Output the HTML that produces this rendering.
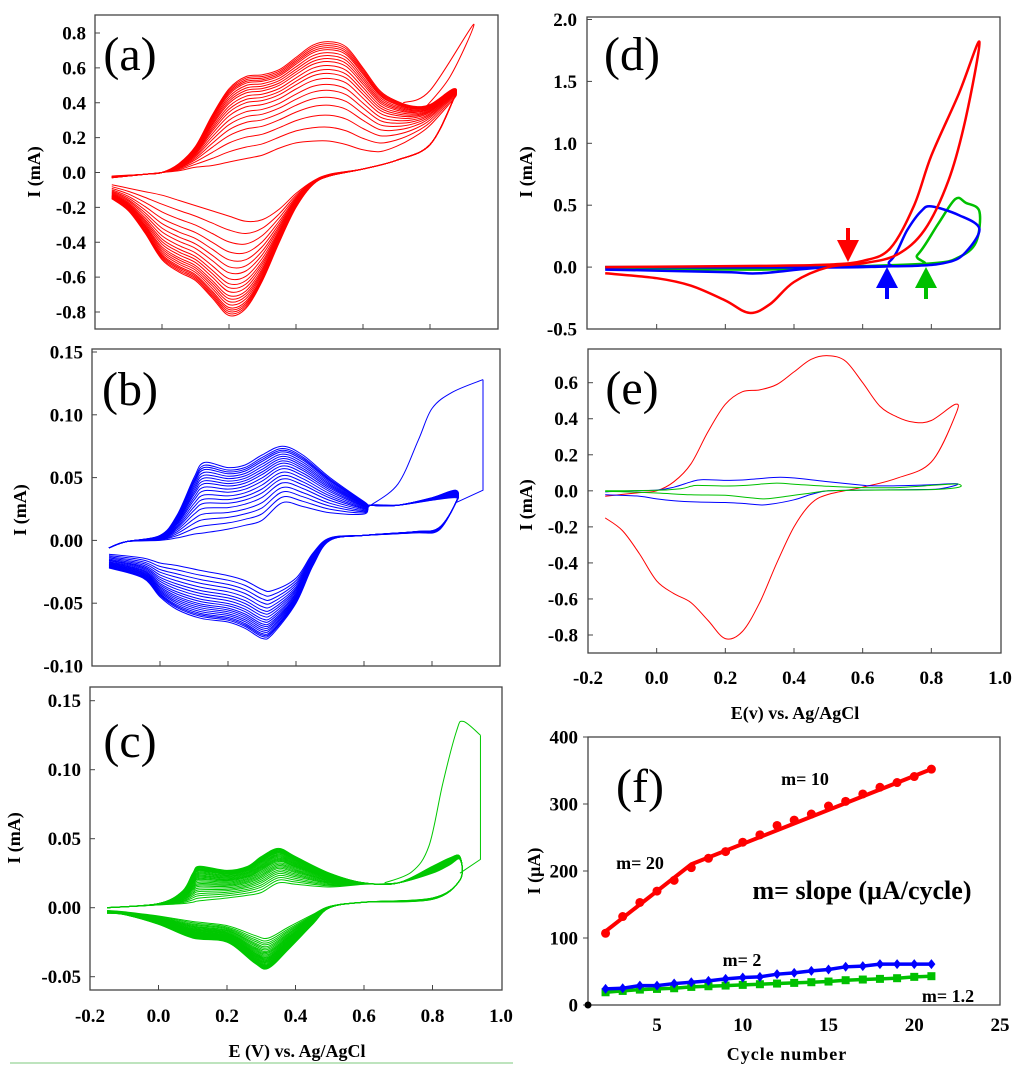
<!DOCTYPE html>
<html><head><meta charset="utf-8"><style>
html,body{margin:0;padding:0;background:#fff;}
svg{display:block;font-family:"Liberation Serif",serif;}
.tk{font-weight:bold;font-size:19px;fill:#000;}
.ax{font-weight:bold;font-size:18px;fill:#000;}
.pl{font-size:48px;fill:#000;}
</style></head><body>
<svg id="fig" width="1024" height="1074" viewBox="0 0 1024 1074" xmlns="http://www.w3.org/2000/svg">
<line x1="10" y1="1063" x2="513" y2="1063" stroke="#7cc87c" stroke-width="1"/>
</svg>
<script>
// ---- Panel (a) data ----
const aFwdE=[-0.15,-0.05,0.0,0.05,0.1,0.15,0.2,0.25,0.3,0.35,0.4,0.45,0.5,0.55,0.6,0.65,0.7,0.75,0.8,0.87];
const aFwdOuter=[-0.03,-0.01,0.0,0.05,0.15,0.33,0.48,0.55,0.56,0.59,0.66,0.73,0.75,0.72,0.6,0.47,0.41,0.38,0.39,0.48];
const aFwdInner=[-0.02,-0.01,0.0,0.01,0.03,0.04,0.06,0.08,0.1,0.14,0.17,0.18,0.18,0.16,0.13,0.12,0.15,0.2,0.27,0.42];
const aRevE=[0.87,0.8,0.7,0.6,0.5,0.45,0.4,0.35,0.3,0.25,0.2,0.15,0.1,0.05,0.0,-0.05,-0.1,-0.15];
const aRevOuter=[0.42,0.16,0.07,0.02,-0.02,-0.07,-0.2,-0.4,-0.62,-0.78,-0.82,-0.72,-0.62,-0.57,-0.5,-0.35,-0.22,-0.15];
const aRevInner=[0.42,0.16,0.07,0.02,-0.01,-0.05,-0.12,-0.21,-0.27,-0.28,-0.25,-0.22,-0.19,-0.16,-0.13,-0.11,-0.09,-0.07];
const aCycleW=[0,0.14,0.26,0.36,0.44,0.51,0.57,0.63,0.68,0.72,0.76,0.8,0.83,0.86,0.89,0.92,0.94,0.96,0.98,1.0];
const aFirstE=[0.72,0.8,0.93,0.86,0.78];
const aFirstI=[0.4,0.47,0.85,0.55,0.36];
// ---- Panel (b) data ----
const bFwdE=[-0.15,-0.1,0.0,0.05,0.1,0.13,0.2,0.25,0.3,0.36,0.42,0.5,0.6,0.62,0.7,0.8,0.87];
const bFwdOuter=[-0.006,-0.001,0.004,0.02,0.05,0.062,0.058,0.06,0.068,0.075,0.068,0.05,0.031,0.028,0.028,0.034,0.04];
const bFwdInner=[-0.006,-0.001,0.0,0.002,0.005,0.006,0.009,0.012,0.016,0.03,0.027,0.022,0.021,0.028,0.028,0.032,0.034];
const bRevE=[0.87,0.82,0.75,0.6,0.5,0.45,0.4,0.33,0.3,0.25,0.2,0.12,0.05,0.0,-0.05,-0.15];
const bRevOuter=[0.03,0.01,0.007,0.004,0.0,-0.02,-0.05,-0.075,-0.078,-0.07,-0.065,-0.062,-0.055,-0.045,-0.03,-0.022];
const bRevInner=[0.03,0.008,0.006,0.004,0.002,-0.01,-0.03,-0.04,-0.039,-0.032,-0.028,-0.024,-0.02,-0.018,-0.014,-0.011];
const bCycleW=[0,0.1,0.19,0.27,0.35,0.42,0.48,0.54,0.6,0.65,0.7,0.74,0.78,0.82,0.86,0.9,0.93,0.96,1.0];
const bFirstE=[0.62,0.7,0.76,0.8,0.86,0.95];
const bFirstI=[0.028,0.045,0.08,0.105,0.118,0.128];
const bFirstDownE=[0.95,0.95,0.87];
const bFirstDownI=[0.128,0.04,0.03];
// ---- Panel (c) data ----
const cFwdE=[-0.15,0.0,0.07,0.1,0.12,0.2,0.26,0.3,0.35,0.4,0.5,0.6,0.7,0.8,0.85,0.88];
const cFwdOuter=[0.0,0.003,0.012,0.025,0.03,0.027,0.03,0.037,0.043,0.037,0.025,0.018,0.018,0.03,0.036,0.037];
const cFwdInner=[0.0,0.002,0.003,0.004,0.005,0.007,0.009,0.011,0.018,0.017,0.015,0.017,0.018,0.025,0.031,0.035];
const cRevE=[0.88,0.8,0.6,0.5,0.45,0.38,0.32,0.28,0.2,0.1,0.0,-0.1,-0.15];
const cRevOuter=[0.02,0.007,0.004,0.0,-0.012,-0.03,-0.044,-0.04,-0.025,-0.022,-0.012,-0.005,-0.004];
const cRevInner=[0.02,0.006,0.004,0.001,-0.005,-0.014,-0.022,-0.02,-0.013,-0.01,-0.006,-0.003,-0.002];
const cCycleW=[0,0.08,0.15,0.21,0.27,0.32,0.37,0.42,0.46,0.5,0.54,0.58,0.62,0.65,0.68,0.71,0.74,0.77,0.8,0.83,0.86,0.88,0.9,0.92,0.94,0.96,0.98,1.0];
const cFirstE=[0.66,0.74,0.79,0.83,0.87,0.89,0.94];
const cFirstI=[0.018,0.026,0.045,0.09,0.128,0.135,0.125];
const cFirstDownE=[0.94,0.94,0.88];
const cFirstDownI=[0.125,0.035,0.025];
// ---- Panel (d) data ----
const dRedE=[-0.15,0.3,0.5,0.6,0.68,0.75,0.8,0.88,0.94,0.9,0.85,0.78,0.7,0.6,0.5,0.4,0.33,0.27,0.2,0.1,0.0,-0.15];
const dRedI=[0.0,0.01,0.02,0.05,0.15,0.5,0.9,1.4,1.82,1.2,0.7,0.3,0.1,0.03,0.0,-0.12,-0.3,-0.37,-0.27,-0.15,-0.09,-0.05];
const dBlueE=[-0.15,0.6,0.68,0.73,0.77,0.8,0.88,0.94,0.9,0.85,0.75,0.5,0.3,0.2,-0.15];
const dBlueI=[0.0,0.0,0.05,0.3,0.45,0.49,0.42,0.31,0.12,0.04,0.01,0.0,-0.05,-0.04,-0.02];
const dGreenE=[-0.15,0.7,0.76,0.82,0.87,0.9,0.94,0.93,0.88,0.8,0.5,0.3,-0.15];
const dGreenI=[0.0,0.01,0.1,0.35,0.55,0.52,0.45,0.2,0.08,0.03,0.0,-0.02,-0.01];
// ---- Panel (f) data ----
const fCycles=[2,3,4,5,6,7,8,9,10,11,12,13,14,15,16,17,18,19,20,21];
const fRed=[107,132,153,170,186,205,219,229,243,254,268,276,285,297,304,315,325,332,341,352];
const fBlue=[24,25,29,29,32,34,36,39,41,42,46,48,51,53,57,58,61,61,61,61];
const fGreen=[19,21,23,24,25,27,28,29,30,31,32,33,34,35,37,38,39,40,42,43];
const fRedFitX=[2,7,21];
const fRedFitY=[110,210,352];

const NS='http://www.w3.org/2000/svg';
const svg=document.getElementById('fig');
function el(tag,attrs,parent){const e=document.createElementNS(NS,tag);for(const k in attrs)e.setAttribute(k,attrs[k]);(parent||svg).appendChild(e);return e;}
function lin(d0,d1,p0,p1){return v=>p0+(v-d0)*(p1-p0)/(d1-d0);}
function smooth(pts){
  let d='M'+pts[0][0].toFixed(1)+','+pts[0][1].toFixed(1);
  for(let i=0;i<pts.length-1;i++){
    const p0=pts[Math.max(0,i-1)],p1=pts[i],p2=pts[i+1],p3=pts[Math.min(pts.length-1,i+2)];
    const c1=[p1[0]+(p2[0]-p0[0])/6,p1[1]+(p2[1]-p0[1])/6];
    const c2=[p2[0]-(p3[0]-p1[0])/6,p2[1]-(p3[1]-p1[1])/6];
    d+='C'+c1[0].toFixed(1)+','+c1[1].toFixed(1)+' '+c2[0].toFixed(1)+','+c2[1].toFixed(1)+' '+p2[0].toFixed(1)+','+p2[1].toFixed(1);
  }
  return d;
}
function box(x0,y0,x1,y1,name){
  const r=el('rect',{x:x0,y:y0,width:x1-x0,height:y1-y0,fill:'none',stroke:'#444','stroke-width':1.3});
  
  
}
function yTicks(ticks,dec,sy,x0,lx,inward,name){
  const g=el('g',{});
  
  
  ticks.forEach(v=>{
    const y=sy(v);
    el('line',{x1:x0,y1:y,x2:inward?x0+5:x0-5,y2:y,stroke:'#444','stroke-width':1},g);
    const t=el('text',{x:lx,y:y+6.5,'text-anchor':'end',class:'tk'},g);
    t.textContent=v.toFixed(dec);
  });
}
function xTicks(ticks,sx,y0,labels,ly,name,dec){
  const g=el('g',{});
  
  
  ticks.forEach(v=>{const x=sx(v);el('line',{x1:x,y1:y0,x2:x,y2:y0-5,stroke:'#444','stroke-width':1},g);});
  if(labels)labels.forEach(v=>{const t=el('text',{x:sx(v),y:ly,'text-anchor':'middle',class:'tk'},g);t.textContent=v.toFixed(dec);});
}
function label(x,y,txt,cls,name,rot){
  const t=el('text',{x:x,y:y,'text-anchor':'middle',class:cls});
  if(rot)t.setAttribute('transform','rotate(-90 '+x+' '+y+')');
  t.textContent=txt;
  
  
  return t;
}
function cvPanel(p){
  const g=el('g',{fill:'none',stroke:p.color,'stroke-width':p.sw||1});
  
  
  p.w.forEach((w,i)=>{
    const pts=[];
    p.fe.forEach((e,k)=>pts.push([p.sx(e),p.sy(p.fi[k]+w*(p.fo[k]-p.fi[k]))]));
    p.re.forEach((e,k)=>pts.push([p.sx(e),p.sy(p.ri[k]+w*(p.ro[k]-p.ri[k]))]));
    const path=el('path',{d:smooth(pts)},g);
    
    
  });
  if(p.xe){
    const pts=p.xe.map((e,k)=>[p.sx(e),p.sy(p.xi[k])]);
    const path=el('path',{d:smooth(pts)},g);
    
    
  }
  if(p.de){
    const pts=p.de.map((e,k)=>[p.sx(e),p.sy(p.di[k])]);
    const path=el('polyline',{points:pts.map(q=>q.join(',')).join(' ')},g);
    
    
  }
}
function traceLine(E,I,sx,sy,color,sw,name){
  const pts=E.map((e,k)=>[sx(e),sy(I[k])]);
  const p=el('path',{d:smooth(pts),fill:'none',stroke:color,'stroke-width':sw,'stroke-linejoin':'round'});
  
  
}
const cvTicks=[0.0,0.2,0.4,0.6,0.8];
const cvLabels=[-0.2,0.0,0.2,0.4,0.6,0.8,1.0];

// Panel a
{const sx=lin(-0.2,1.0,95,497),sy=lin(0.8,-0.8,33,312);
box(95,15,498,329,'panel-a-frame');
yTicks([0.8,0.6,0.4,0.2,0,-0.2,-0.4,-0.6,-0.8],1,sy,95,86,true,'panel-a-y-ticks');
xTicks(cvTicks,sx,329,null,0,'panel-a-x-ticks');
cvPanel({name:'panel-a-cycles',color:'#ff0000',sx,sy,fe:aFwdE,fo:aFwdOuter,fi:aFwdInner,re:aRevE,ro:aRevOuter,ri:aRevInner,w:aCycleW,xe:aFirstE,xi:aFirstI});
label(40,172,'I (mA)','ax','panel-a-y-title',true);
label(130,70,'(a)','pl','panel-a-label');}
// Panel b
{const sx=lin(-0.2,1.0,92,500),sy=lin(0.15,-0.10,352,666);
box(92,349,500,666,'panel-b-frame');
yTicks([0.15,0.10,0.05,0,-0.05,-0.10],2,sy,92,83,true,'panel-b-y-ticks');
xTicks(cvTicks,sx,666,null,0,'panel-b-x-ticks');
cvPanel({name:'panel-b-cycles',color:'#0000ff',sx,sy,fe:bFwdE,fo:bFwdOuter,fi:bFwdInner,re:bRevE,ro:bRevOuter,ri:bRevInner,w:bCycleW,xe:bFirstE,xi:bFirstI,de:bFirstDownE,di:bFirstDownI});
label(26,510,'I (mA)','ax','panel-b-y-title',true);
label(130,405,'(b)','pl','panel-b-label');}
// Panel c
{const sx=lin(-0.2,1.0,90,501),sy=lin(0.15,-0.05,700.7,976.7);
box(90,687,502,990,'panel-c-frame');
yTicks([0.15,0.10,0.05,0,-0.05],2,sy,90,81,true,'panel-c-y-ticks');
xTicks(cvTicks,sx,990,cvLabels,1022,'panel-c-x-ticks',1);
cvPanel({name:'panel-c-cycles',color:'#00c800',sx,sy,fe:cFwdE,fo:cFwdOuter,fi:cFwdInner,re:cRevE,ro:cRevOuter,ri:cRevInner,w:cCycleW,xe:cFirstE,xi:cFirstI,de:cFirstDownE,di:cFirstDownI});
label(20,838,'I (mA)','ax','panel-c-y-title',true);
label(297,1057,'E (V) vs. Ag/AgCl','ax','panel-c-x-title');
label(130,757,'(c)','pl','panel-c-label');}
// Panel d
{const sx=lin(-0.2,1.0,588,1000),sy=lin(2.0,-0.5,19.5,329);
box(587,17,1000,329,'panel-d-frame');
yTicks([2.0,1.5,1.0,0.5,0,-0.5],1,sy,587,577,true,'panel-d-y-ticks');
xTicks(cvTicks,sx,329,null,0,'panel-d-x-ticks');
traceLine(dGreenE,dGreenI,sx,sy,'#00c000',2.5,'panel-d-green-trace');
traceLine(dBlueE,dBlueI,sx,sy,'#0000ff',2.5,'panel-d-blue-trace');
traceLine(dRedE,dRedI,sx,sy,'#ff0000',2.5,'panel-d-red-trace');
const arrows=[[848,'#ff0000',true],[887,'#0000ff',false],[926,'#00c000',false]];
arrows.forEach(a=>{const g=el('g',{fill:a[1],stroke:'none'});
 
 
 if(a[2]){el('rect',{x:a[0]-2,y:228,width:4,height:14},g);el('polygon',{points:(a[0]-11)+',240 '+(a[0]+11)+',240 '+a[0]+',262'},g);}
 else{el('polygon',{points:(a[0]-11)+',288 '+(a[0]+11)+',288 '+a[0]+',267'},g);el('rect',{x:a[0]-2,y:286,width:4,height:13},g);}
});
label(532,172,'I (mA)','ax','panel-d-y-title',true);
label(632,70,'(d)','pl','panel-d-label');}
// Panel e
{const sx=lin(-0.2,1.0,588,1000),sy=lin(0.6,-0.8,382.7,635);
box(588,349,1001,653,'panel-e-frame');
yTicks([0.6,0.4,0.2,0,-0.2,-0.4,-0.6,-0.8],1,sy,588,578,true,'panel-e-y-ticks');
xTicks(cvTicks,sx,653,cvLabels,684,'panel-e-x-ticks',1);
cvPanel({name:'panel-e-red',color:'#ff0000',sx,sy,fe:aFwdE,fo:aFwdOuter,fi:aFwdInner,re:aRevE,ro:aRevOuter,ri:aRevInner,w:[1]});
cvPanel({name:'panel-e-blue',color:'#0000ff',sx,sy,fe:bFwdE,fo:bFwdOuter,fi:bFwdInner,re:bRevE,ro:bRevOuter,ri:bRevInner,w:[1]});
cvPanel({name:'panel-e-green',color:'#00c000',sx,sy,fe:cFwdE,fo:cFwdOuter,fi:cFwdInner,re:cRevE,ro:cRevOuter,ri:cRevInner,w:[1]});
label(532,505,'I (mA)','ax','panel-e-y-title',true);
label(795,719,'E(v) vs. Ag/AgCl','ax','panel-e-x-title');
label(632,404,'(e)','pl','panel-e-label');}
// Panel f
{const sx=lin(1,25,588.4,1000),sy=lin(400,0,737,1005);
box(588,737,1000,1005,'panel-f-frame');
yTicks([400,300,200,100,0],0,sy,588,578,false,'panel-f-y-ticks');
xTicks([],sx,1005,[5,10,15,20,25],1031,'panel-f-x-ticks',0);
const dot=el('circle',{cx:588,cy:1005,r:3.5,fill:'#000'});


const gg=el('g',{});


el('polyline',{points:fCycles.map((c,i)=>sx(c)+','+sy(fGreen[i])).join(' '),fill:'none',stroke:'#00c000','stroke-width':3.5},gg);
fCycles.forEach((c,i)=>{const r=el('rect',{x:sx(c)-4,y:sy(fGreen[i])-4,width:8,height:8,fill:'#00c000'},gg);});
const gb=el('g',{});


el('polyline',{points:fCycles.map((c,i)=>sx(c)+','+sy(fBlue[i])).join(' '),fill:'none',stroke:'#0000ff','stroke-width':3.5},gb);
fCycles.forEach((c,i)=>{const x=sx(c),y=sy(fBlue[i]);const p=el('polygon',{points:x+','+(y-5)+' '+(x+4)+','+y+' '+x+','+(y+5)+' '+(x-4)+','+y,fill:'#0000ff'},gb);});
const gr=el('g',{});


el('polyline',{points:fRedFitX.map((c,i)=>sx(c)+','+sy(fRedFitY[i])).join(' '),fill:'none',stroke:'#ff0000','stroke-width':4},gr);
fCycles.forEach((c,i)=>{const p=el('circle',{cx:sx(c),cy:sy(fRed[i]),r:4.5,fill:'#ff0000'},gr);});
label(540,871,'I (µA)','ax','panel-f-y-title',true);
label(787,1060,'Cycle number','ax','panel-f-x-title').setAttribute('letter-spacing','1');
label(640,869,'m= 20','ax','slope-label-20');
label(805,785,'m= 10','ax','slope-label-10');
label(862,899,'m= slope (µA/cycle)','ax','slope-legend').setAttribute('style','font-size:26px');
label(742,966,'m= 2','ax','slope-label-2');
label(948,1002,'m= 1.2','ax','slope-label-1-2');
label(640,802,'(f)','pl','panel-f-label');}
</script>
</body></html>
